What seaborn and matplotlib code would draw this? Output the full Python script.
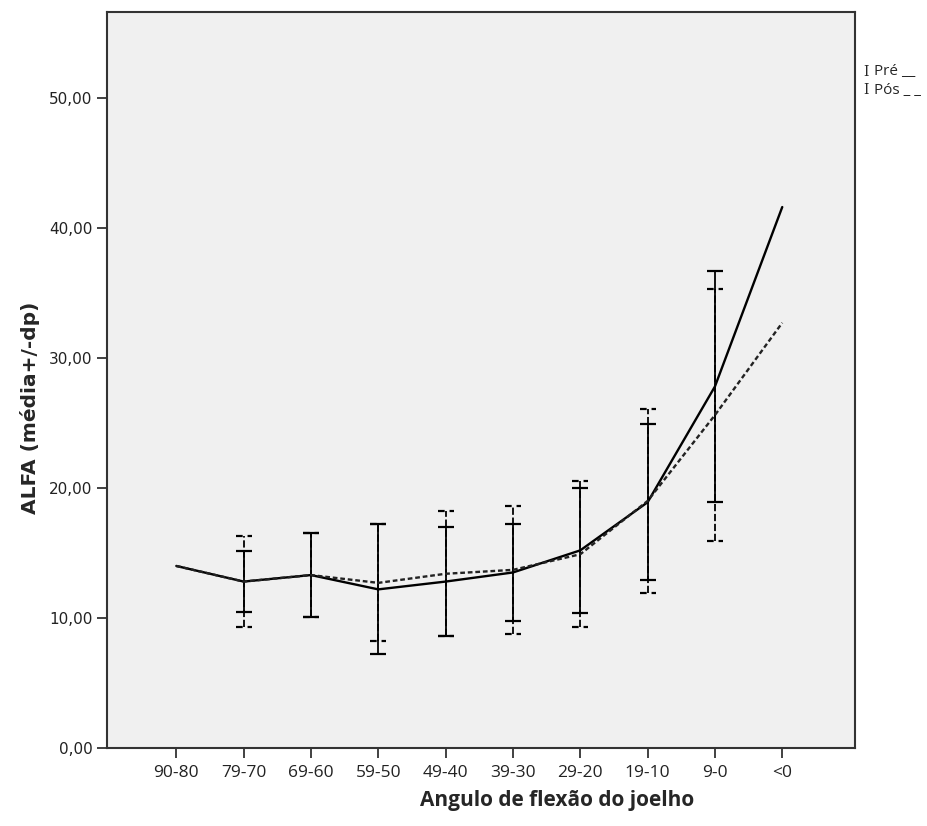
import numpy as np
import pandas as pd
import matplotlib
matplotlib.use('Agg')
import matplotlib.pyplot as plt
import seaborn as sns

categorias = ['90-80', '79-70', '69-60', '59-50', '49-40', '39-30', '29-20', '19-10', '9-0', '<0']
pre_media = [14.0, 12.8, 13.3, 12.2, 12.8, 13.5, 15.2, 18.9, 27.8, 41.6]
pre_dp = [np.nan, 2.35, 3.2, 5.0, 4.2, 3.7, 4.8, 6.0, 8.9, np.nan]
pos_media = [14.0, 12.8, 13.3, 12.7, 13.4, 13.7, 14.9, 19.0, 25.6, 32.7]
pos_dp = [np.nan, 3.5, 3.2, 4.5, 4.8, 4.9, 5.6, 7.1, 9.7, np.nan]
yticks = [0, 10, 20, 30, 40, 50]

idx = np.arange(len(categorias))
df = pd.concat([
    pd.DataFrame({'idx': idx, 'media': pre_media, 'dp': pre_dp, 'fase': 'Pré'}),
    pd.DataFrame({'idx': idx, 'media': pos_media, 'dp': pos_dp, 'fase': 'Pós'}),
])

sns.set_style('ticks')
plt.rcParams['font.family'] = ['DejaVu Sans']

fig = plt.figure(figsize=(9.27, 8.26), dpi=100)
ax = fig.add_axes([0.1154, 0.0944, 0.8069, 0.8911])
ax.set_facecolor('#f0f0f0')

sns.lineplot(data=df, x='idx', y='media', hue='fase', style='fase',
             palette={'Pré': 'black', 'Pós': '#222222'},
             dashes={'Pré': '', 'Pós': (2, 1.2)},
             linewidth=1.7, legend=False, ax=ax, zorder=3)

cap = 0.12
estilos = {'Pré': ('-', '-'), 'Pós': ((0, (4, 1.5)), (0, (3, 2.2)))}
for fase, g in df.groupby('fase'):
    g = g.dropna()
    lo = g['media'] - g['dp']
    hi = g['media'] + g['dp']
    ls_bar, ls_cap = estilos[fase]
    ax.vlines(g['idx'], lo, hi, colors='black', linestyles=ls_bar, linewidth=1.3, zorder=2)
    ax.hlines(lo, g['idx'] - cap, g['idx'] + cap, colors='black', linestyles=ls_cap, linewidth=1.6, zorder=2)
    ax.hlines(hi, g['idx'] - cap, g['idx'] + cap, colors='black', linestyles=ls_cap, linewidth=1.6, zorder=2)

ax.set_xlim(-1.03, 10.08)
ax.set_ylim(0, 56.6)
ax.set_xticks(idx)
ax.set_xticklabels(categorias, fontfamily='Open Sans', fontsize=12.5, color='#222222')
ax.set_yticks(yticks)
ax.set_yticklabels([f'{v:.2f}'.replace('.', ',') for v in yticks], fontsize=11, color='#222222')
ax.tick_params(axis='both', direction='out', length=7, width=1.3, color='#333333')
ax.tick_params(axis='x', pad=5)

for s in ax.spines.values():
    s.set_visible(True)
    s.set_linewidth(1.5)
    s.set_color('#333333')

ax.set_xlabel('Angulo de flexão do joelho', fontfamily='Open Sans', fontweight='bold',
              fontsize=15)
ax.xaxis.set_label_coords(0.602, -0.057)
ax.set_ylabel('ALFA (média+/-dp)', fontweight='bold', fontsize=14.5)
ax.yaxis.set_label_coords(-0.09, 0.462)

fig.text(0.934, 0.913, 'I', fontfamily='DejaVu Serif', fontsize=10, va='center', ha='center')
fig.text(0.943, 0.913, 'Pré __', fontfamily='Open Sans', fontsize=11, va='center')
fig.text(0.934, 0.891, 'I', fontfamily='DejaVu Serif', fontsize=10, va='center', ha='center')
fig.text(0.943, 0.891, 'Pós _ _', fontfamily='Open Sans', fontsize=11, va='center')

fig.savefig('out.png', dpi=100)
